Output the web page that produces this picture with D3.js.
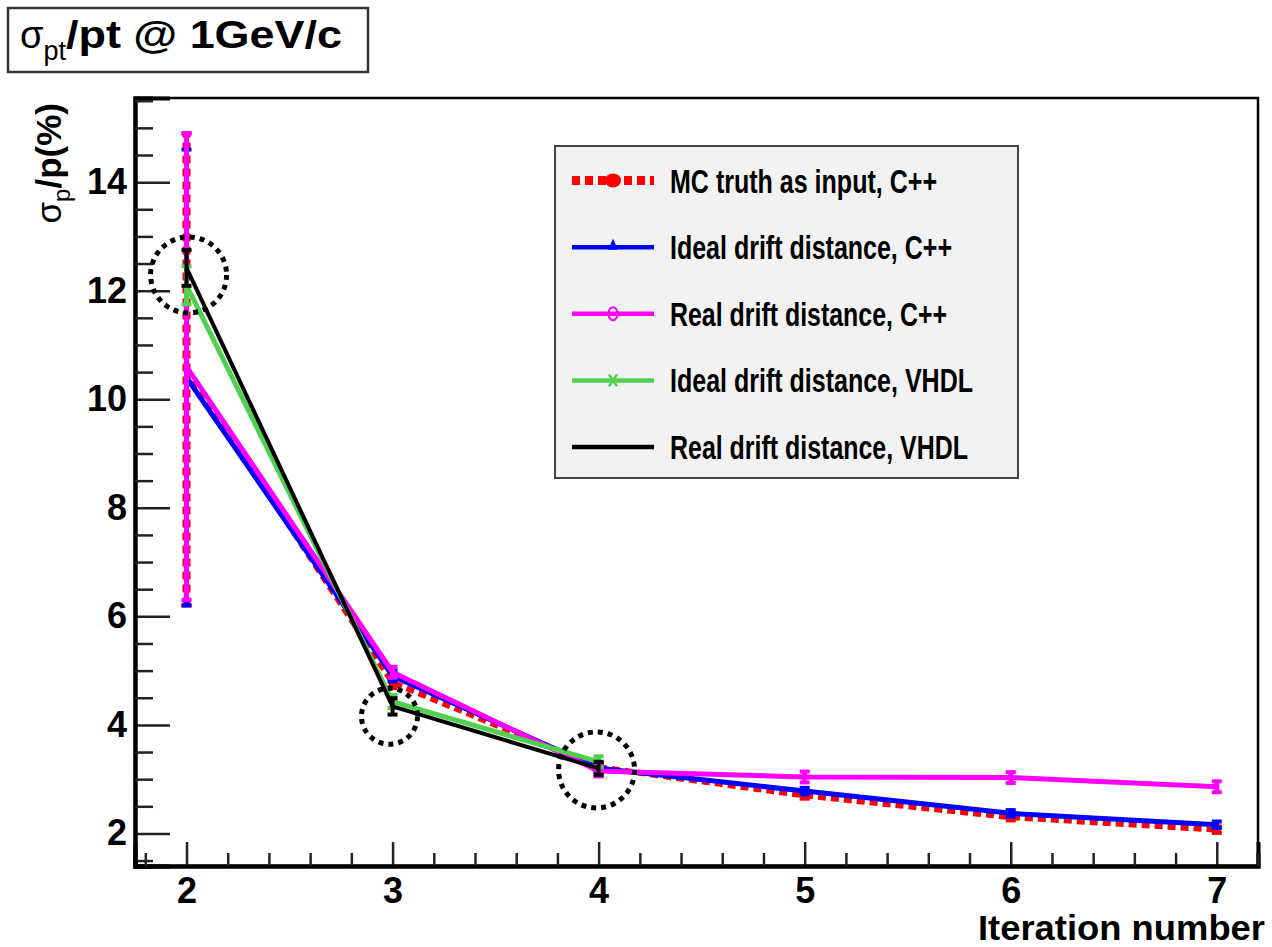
<!DOCTYPE html>
<html lang="en">
<head>
<meta charset="utf-8">
<script src="https://d3js.org/d3.v7.min.js"></script>
<title>sigma pt / pt</title>
<style>
  body { margin: 0; background: #fff; }
  text { font-family: "Liberation Sans", Arial, Helvetica, sans-serif; fill: #000; }
</style>
</head>
<body>
<svg width="1272" height="947"></svg>
<script>

// values
var iterations = [2, 3, 4, 5, 6, 7];
var vhdlIterations = [2, 3, 4];

var mcTruth      = [10.55, 4.78, 3.22, 2.70, 2.30, 2.07];
var mcTruthErr   = [4.35, 0.10, 0.08, 0.06, 0.06, 0.06];
var idealCpp     = [10.40, 4.90, 3.20, 2.78, 2.37, 2.16];
var idealCppErr  = [4.20, 0.10, 0.08, 0.06, 0.06, 0.06];
var realCpp      = [10.60, 4.97, 3.15, 3.04, 3.03, 2.86];
var realCppErr   = [4.30, 0.10, 0.10, 0.10, 0.10, 0.10];
var idealVhdl    = [12.10, 4.43, 3.32];
var idealVhdlErr = [0.35, 0.12, 0.10];
var realVhdl     = [12.42, 4.34, 3.20];
var realVhdlErr  = [0.33, 0.15, 0.12];

var legendLabels = ["MC truth as input, C++", "Ideal drift distance, C++", "Real drift distance, C++",
                    "Ideal drift distance, VHDL", "Real drift distance, VHDL"];

var xMajorTicks = [2, 3, 4, 5, 6, 7];
var yMajorTicks = [2, 4, 6, 8, 10, 12, 14];

// highlighted points (dotted rings)
var ringX = [2.01, 2.985, 3.99];
var ringY = [12.29, 4.16, 3.17];

var svg = d3.select("svg");

var padL = 135, padR = 1258, padT = 98, padB = 866;

var xScale = d3.scaleLinear().domain([1.75, 7.2]).range([padL, padR]),
    yScale = d3.scaleLinear().domain([1.4, 15.55]).range([padB, padT]);

// frame
svg.append("rect")
  .attr("x", padL).attr("y", padT)
  .attr("width", padR - padL).attr("height", padB - padT)
  .style("fill", "none").style("stroke", "#000").style("stroke-width", 2.5);

// y axis: majors, minors
var yMinor = d3.range(1.5, 15.51, 0.5).filter(function (v) { return Math.abs(v - Math.round(v / 2) * 2) > 0.01; });
svg.append("g").attr("transform", "translate(" + padL + ",0)")
  .call(d3.axisLeft(yScale).tickValues(yMajorTicks).tickSize(-35).tickPadding(8).tickFormat(d3.format("d")));
svg.append("g").attr("transform", "translate(" + padL + ",0)")
  .call(d3.axisLeft(yScale).tickValues(yMinor).tickSize(-18).tickFormat(""));

// x axis
var xMinor = d3.range(1.8, 7.21, 0.2).filter(function (v) { return Math.abs(v - Math.round(v)) > 0.01; });
svg.append("g").attr("transform", "translate(0," + padB + ")")
  .call(d3.axisBottom(xScale).tickValues(xMajorTicks).tickSize(-24).tickPadding(11).tickFormat(d3.format("d")));
svg.append("g").attr("transform", "translate(0," + padB + ")")
  .call(d3.axisBottom(xScale).tickValues(xMinor).tickSize(-13).tickFormat(""));

svg.selectAll(".domain").style("stroke", "#000").style("stroke-width", 4);
svg.selectAll(".tick line").style("stroke", "#222").style("stroke-width", 2.5);
svg.selectAll(".tick text")
  .style("font-size", "36px").style("font-weight", "bold")
  .style("font-family", "'Liberation Sans', Arial, sans-serif").style("fill", "#000");

// axis titles
svg.append("text")
  .attr("x", 1265).attr("y", 940)
  .attr("text-anchor", "end")
  .style("font-size", "35px").style("font-weight", "bold")
  .attr("textLength", 287).attr("lengthAdjust", "spacingAndGlyphs")
  .text("Iteration number");

var yTitle = svg.append("text")
  .attr("transform", "translate(61,103) rotate(-90)")
  .attr("text-anchor", "end")
  .style("font-size", "35px");
yTitle.append("tspan").text("σ");
yTitle.append("tspan").attr("dy", 9).style("font-size", "24px").text("p");
yTitle.append("tspan").attr("dy", -9).style("font-weight", "bold").text("/p(%)");

// series
var series = [
  { x: iterations, y: mcTruth, e: mcTruthErr, color: "#ff0000", width: 8, dash: "8,5", marker: "dot" },
  { x: iterations, y: idealCpp, e: idealCppErr, color: "#0000ff", width: 5, dash: null, marker: "triangle" },
  { x: iterations, y: realCpp, e: realCppErr, color: "#ff00ff", width: 5, dash: null, marker: "circle" },
  { x: vhdlIterations, y: idealVhdl, e: idealVhdlErr, color: "#4fd04f", width: 5, dash: null, marker: "cross" },
  { x: vhdlIterations, y: realVhdl, e: realVhdlErr, color: "#000000", width: 4, dash: null, marker: null }
];

var line = d3.line()
  .x(function (d) { return xScale(d[0]); })
  .y(function (d) { return yScale(d[1]); });

var plot = svg.append("g");

series.forEach(function (s) {
  var pts = s.x.map(function (x, i) { return [x, s.y[i], s.e[i]]; });
  var g = plot.append("g");

  g.append("path")
    .datum(pts)
    .attr("d", line)
    .style("fill", "none")
    .style("stroke", s.color)
    .style("stroke-width", s.dash ? s.width - 2 : s.width)
    .style("stroke-linejoin", "round")
    .style("stroke-dasharray", s.dash);

  // error bars with caps
  g.selectAll(".err").data(pts).enter().append("line")
    .attr("x1", function (d) { return xScale(d[0]); })
    .attr("x2", function (d) { return xScale(d[0]); })
    .attr("y1", function (d) { return yScale(d[1] - d[2]); })
    .attr("y2", function (d) { return yScale(d[1] + d[2]); })
    .style("stroke", s.color).style("stroke-width", s.width)
    .style("stroke-dasharray", s.dash);

  [-1, 1].forEach(function (sign) {
    g.selectAll(".cap" + sign).data(pts).enter().append("line")
      .attr("x1", function (d) { return xScale(d[0]) - 5; })
      .attr("x2", function (d) { return xScale(d[0]) + 5; })
      .attr("y1", function (d) { return yScale(d[1] + sign * d[2]); })
      .attr("y2", function (d) { return yScale(d[1] + sign * d[2]); })
      .style("stroke", s.color).style("stroke-width", 4);
  });
});

// dotted rings
plot.selectAll(".ring").data(ringX).enter().append("circle")
  .attr("cx", function (d) { return xScale(d); })
  .attr("cy", function (d, i) { return yScale(ringY[i]); })
  .attr("r", function (d, i) { return i === 1 ? 28 : 38; })
  .style("fill", "none")
  .style("stroke", "#000")
  .style("stroke-width", 5)
  .style("stroke-dasharray", "5,5");

// legend
var legend = svg.append("g");
legend.append("rect")
  .attr("x", 555).attr("y", 146).attr("width", 463).attr("height", 332)
  .style("fill", "#f2f2f2").style("stroke", "#444").style("stroke-width", 2);

var legendWidths = [267, 282, 277, 303, 298];
var rowY = d3.scaleLinear().domain([0, 4]).range([180.5, 447]);

series.forEach(function (s, i) {
  var yy = rowY(i);
  var row = legend.append("g");
  row.append("line")
    .attr("x1", 572).attr("x2", 654).attr("y1", yy).attr("y2", yy)
    .style("stroke", s.color).style("stroke-width", i === 0 ? 9 : 4.5)
    .style("stroke-dasharray", s.dash);
  var mx = 613;
  if (s.marker === "dot") {
    row.append("ellipse").attr("cx", mx).attr("cy", yy).attr("rx", 8).attr("ry", 7).style("fill", s.color);
  } else if (s.marker === "triangle") {
    row.append("path").attr("d", d3.symbol(d3.symbolTriangle, 60)()).attr("transform", "translate(" + mx + "," + (yy - 1) + ") scale(0.85,1.1)").style("fill", s.color);
  } else if (s.marker === "circle") {
    row.append("ellipse").attr("cx", mx).attr("cy", yy).attr("rx", 4.5).attr("ry", 6.5)
      .style("fill", "none").style("stroke", s.color).style("stroke-width", 2);
  } else if (s.marker === "cross") {
    row.append("path").attr("d", "M-4,-6L4,6M-4,6L4,-6").attr("transform", "translate(" + mx + "," + yy + ")")
      .style("stroke", s.color).style("stroke-width", 2.5).style("fill", "none");
  }
  row.append("text")
    .attr("x", 670).attr("y", yy + 12)
    .attr("textLength", legendWidths[i]).attr("lengthAdjust", "spacingAndGlyphs")
    .style("font-size", "33px").style("font-weight", "bold")
    .text(legendLabels[i]);
});

// title box
svg.append("rect")
  .attr("x", 8).attr("y", 8).attr("width", 360).attr("height", 64)
  .style("fill", "#fff").style("stroke", "#333").style("stroke-width", 2.5);
var title = svg.append("text").attr("x", 20).attr("y", 48).style("font-size", "38px");
title.append("tspan").text("σ");
title.append("tspan").attr("dy", 12).style("font-size", "27px").text("pt");
title.append("tspan").attr("dy", -12).style("font-weight", "bold")
  .attr("textLength", 276).attr("lengthAdjust", "spacingAndGlyphs")
  .text("/pt @ 1GeV/c");

</script>
</body>
</html>
